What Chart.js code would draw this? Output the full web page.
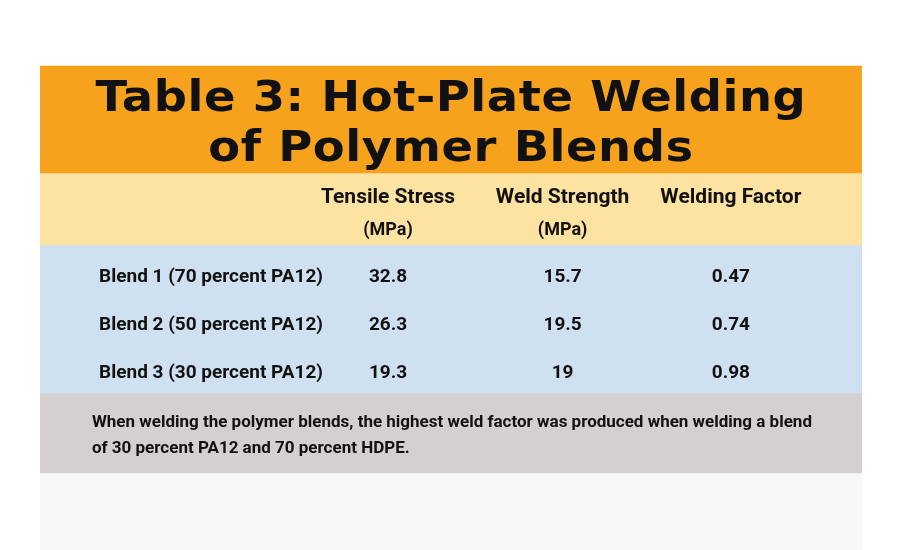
<!DOCTYPE html>
<html>
<head>
<meta charset="utf-8">
<script src="https://cdn.jsdelivr.net/npm/chart.js@4"></script>
<style>
  body { margin: 0; background: #fff; }
  #wrap { position: relative; width: 900px; height: 550px; }
  #overlay { position: absolute; left: 0; top: 0; width: 900px; height: 550px; pointer-events: none; }
  .t { position: absolute; white-space: nowrap; color: #111; font-family: "Liberation Sans Narrow", "Roboto", sans-serif; font-weight: bold; }
  .title { font-family: "DejaVu Sans", sans-serif; font-size: 43px; font-weight: 900; letter-spacing: 0.5px; transform: translate(-50%, -50%) scaleX(1.08); }
  .c { transform: translate(-50%, -50%); }
  .l { transform: translate(0, -50%); }
</style>
</head>
<body>
<div id="wrap">
  <canvas id="table" width="900" height="550"></canvas>
  <div id="overlay"></div>
</div>
<script>
// table content
const titleLines = ['Table 3: Hot-Plate Welding', 'of Polymer Blends'];
const headers = ['Tensile Stress', 'Weld Strength', 'Welding Factor'];
const units = ['(MPa)', '(MPa)', ''];
const blends = ['Blend 1 (70 percent PA12)', 'Blend 2 (50 percent PA12)', 'Blend 3 (30 percent PA12)'];
const tensile = ['32.8', '26.3', '19.3'];
const weldStrength = ['15.7', '19.5', '19'];
const weldFactor = ['0.47', '0.74', '0.98'];
const footnote = ['When welding the polymer blends, the highest weld factor was produced when welding a blend',
                  'of 30 percent PA12 and 70 percent HDPE.'];

// bands (top, bottom) on the vertical scale
const bandNames = ['title', 'header', 'rows', 'note', 'below'];
const bandRanges = [[66, 173], [173, 245], [245, 393], [393, 473], [473, 550]];
const bandColors = ['#f6a21c', '#fde3a1', '#cfe0f1', '#d4d0cf', '#f8f8f8'];

const colX = [381, 575, 762];
const rowY = [275, 323, 371];

const overlay = document.getElementById('overlay');
function addText(txt, x, y, cls, size) {
    const d = document.createElement('div');
    d.className = 't ' + cls;
    d.textContent = txt;
    d.style.left = x + 'px';
    d.style.top = y + 'px';
    if (size) d.style.fontSize = size + 'px';
    overlay.appendChild(d);
}

const textPlugin = {
    id: 'tableText',
    afterRender(chart) {
        if (overlay.childElementCount) return;
        const xs = chart.scales.xv, ys = chart.scales.y;
        const px = v => xs.getPixelForValue(v), py = v => ys.getPixelForValue(v);
        addText(titleLines[0], px(451), py(96), 'title');
        addText(titleLines[1], px(451), py(146), 'title');
        headers.forEach((h, i) => {
            addText(h, px(colX[i]), py(196), 'c', 21);
            if (units[i]) addText(units[i], px(colX[i]), py(228), 'c', 18);
        });
        blends.forEach((b, r) => {
            addText(b, px(60), py(rowY[r]), 'l', 19);
            [tensile, weldStrength, weldFactor].forEach((col, i) => {
                addText(col[r], px(colX[i]), py(rowY[r]), 'c', 19);
            });
        });
        addText(footnote[0], px(52), py(421), 'l', 17);
        addText(footnote[1], px(52), py(447), 'l', 17);
    }
};

new Chart(document.getElementById('table'), {
    type: 'bar',
    data: {
        labels: ['table'],
        datasets: bandNames.map((n, i) => ({
            label: n,
            data: [bandRanges[i]],
            backgroundColor: bandColors[i],
            borderWidth: 0,
            grouped: false,
            barPercentage: 1,
            categoryPercentage: 1
        }))
    },
    options: {
        responsive: false,
        animation: false,
        layout: { padding: { left: 40, right: 38, top: 0, bottom: 0 } },
        scales: {
            x: { display: false, grid: { display: false } },
            xv: { type: 'linear', display: false, min: 40, max: 862 },
            y: { display: false, min: 0, max: 550, reverse: true }
        },
        plugins: { legend: { display: false }, tooltip: { enabled: false } }
    },
    plugins: [textPlugin]
});
</script>
</body>
</html>
